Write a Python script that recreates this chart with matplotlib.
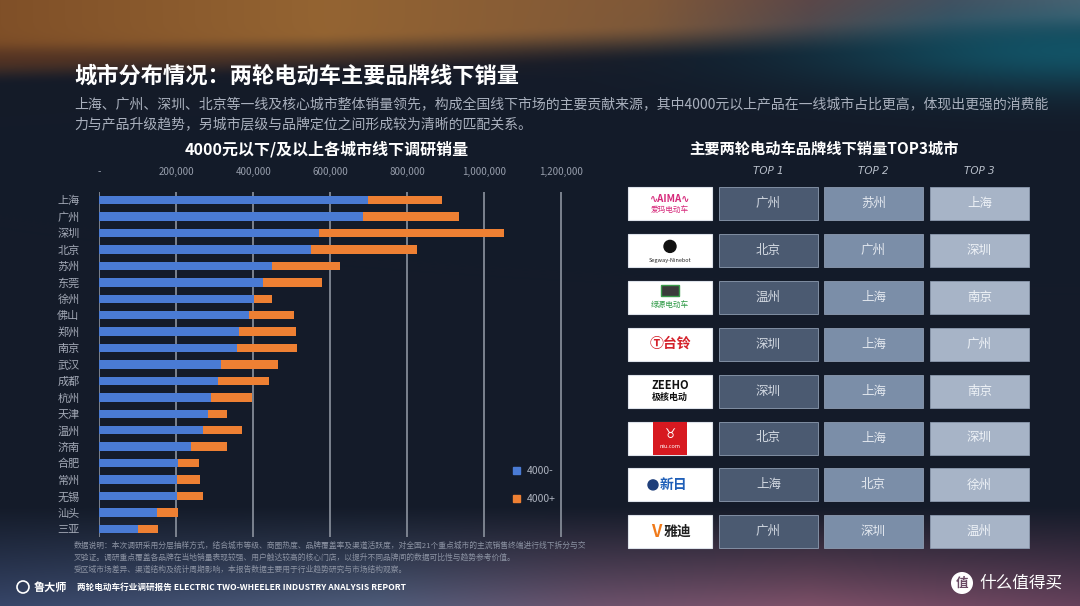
import numpy as np
import matplotlib
matplotlib.use('Agg')
import matplotlib.pyplot as plt
from matplotlib.patches import Rectangle, Circle, Patch

plt.rcParams['font.family'] = ['Noto Sans CJK SC', 'DejaVu Sans']

# data
cities = ['上海', '广州', '深圳', '北京', '苏州', '东莞', '徐州', '佛山', '郑州', '南京', '武汉',
          '成都', '杭州', '天津', '温州', '济南', '合肥', '常州', '无锡', '汕头', '三亚']
below_4000 = [699000, 686000, 571000, 550000, 450000, 425000, 402000, 389000, 363000, 359000, 317000,
              308000, 290000, 282000, 269000, 240000, 205000, 203000, 203000, 151000, 100000]
above_4000 = [191000, 247000, 481000, 274000, 176000, 153000, 46000, 116000, 148000, 156000, 147000,
              133000, 108000, 50000, 103000, 92000, 55000, 59000, 66000, 53000, 54000]
series_names = ['4000-', '4000+']
x_ticks = [0, 200000, 400000, 600000, 800000, 1000000, 1200000]
x_tick_labels = ['-', '200,000', '400,000', '600,000', '800,000', '1,000,000', '1,200,000']

brands = ['爱玛', '九号', '绿源', '台铃', '极核', '小牛', '新日', '雅迪']
top1 = ['广州', '北京', '温州', '深圳', '深圳', '北京', '上海', '广州']
top2 = ['苏州', '广州', '上海', '上海', '上海', '上海', '北京', '深圳']
top3 = ['上海', '深圳', '南京', '广州', '南京', '深圳', '徐州', '温州']
top_headers = ['TOP 1', 'TOP 2', 'TOP 3']

title = '城市分布情况：两轮电动车主要品牌线下销量'
subtitle = ('上海、广州、深圳、北京等一线及核心城市整体销量领先，构成全国线下市场的主要贡献来源，其中4000元以上产品在一线城市占比更高，体现出更强的消费能\n'
            '力与产品升级趋势，另城市层级与品牌定位之间形成较为清晰的匹配关系。')
notes = ['数据说明：本次调研采用分层抽样方式，结合城市等级、商圈热度、品牌覆盖率及渠道活跃度，对全国21个重点城市的主流销售终端进行线下拆分与交',
         '叉验证。调研重点覆盖各品牌在当地销量表现较强、用户触达较高的核心门店，以提升不同品牌间的数据可比性与趋势参考价值。',
         '受区域市场差异、渠道结构及统计周期影响，本报告数据主要用于行业趋势研究与市场结构观察。']

W, H = 1080, 606
fig = plt.figure(figsize=(10.8, 6.06), dpi=100)

# background gradient
yy, xx = np.mgrid[0:H, 0:W].astype(float)
base = np.array([20, 27, 41], dtype=float)
img = np.ones((H, W, 3)) * base

xs = np.array([0, 0.3, 0.6, 0.75, 0.88, 1.0]) * W
top_cols = np.array([[128, 80, 40], [148, 100, 50], [128, 88, 56], [95, 70, 70], [72, 80, 95], [80, 100, 115]], dtype=float)
tc = np.stack([np.interp(xx[0], xs, top_cols[:, k]) for k in range(3)], axis=-1)
full = 40 - 28 * (xx / W)
fade = 45 - 10 * (xx / W)
t = np.clip((yy - full) / fade, 0, 1)
wt = 1 - t * t * (3 - 2 * t)
# darker brown on the lower edge of the band (left side)
brown = np.array([80, 45, 32], dtype=float)
wbrown = np.exp(-((yy - 58) / 14) ** 2) * np.clip(1 - xx / 700, 0, 1) * 0.55
img = img * (1 - wt[..., None]) + tc[None, :, :] * wt[..., None]
img = img * (1 - wbrown[..., None]) + brown * wbrown[..., None]
# teal glow top right
teal = np.array([18, 92, 112], dtype=float)
wteal = np.exp(-(((xx - 1080) / 260) ** 2 + ((yy - 50) / 40) ** 2)) * 0.85
img = img * (1 - wteal[..., None]) + teal * wteal[..., None]

bxs = np.array([0, 0.35, 0.55, 0.75, 1.0]) * W
bot_cols = np.array([[55, 70, 105], [78, 92, 122], [108, 82, 108], [125, 80, 104], [102, 66, 92]], dtype=float)
bc = np.stack([np.interp(xx[0], bxs, bot_cols[:, k]) for k in range(3)], axis=-1)
wb = np.clip((yy - 505) / 101, 0, 1) ** 1.1
img = img * (1 - wb[..., None]) + bc[None, :, :] * wb[..., None]

bg = fig.add_axes([0, 0, 1, 1])
bg.imshow(np.clip(img, 0, 255).astype(np.uint8), extent=[0, W, H, 0], aspect='auto')
bg.set_xlim(0, W)
bg.set_ylim(H, 0)
bg.axis('off')

# titles
bg.text(74, 76, title, color='white', fontsize=16, fontweight='bold', va='center')
bg.text(74, 114, subtitle, color='#a9b0bd', fontsize=10, va='center', linespacing=1.55)
bg.text(327, 149, '4000元以下/及以上各城市线下调研销量', color='white', fontsize=11.5,
        fontweight='bold', ha='center', va='center')
bg.text(824, 149, '主要两轮电动车品牌线下销量TOP3城市', color='white', fontsize=11,
        fontweight='bold', ha='center', va='center')

# bar chart
ax = fig.add_axes([99 / W, 1 - 537 / H, 501 / W, 345 / H])
ax.set_facecolor('none')
y = np.arange(len(cities))
ax.barh(y, below_4000, height=0.52, color='#4a7bd4', zorder=3)
ax.barh(y, above_4000, left=below_4000, height=0.52, color='#ee8033', zorder=3)
ax.set_ylim(len(cities) - 0.5, -0.5)
ax.set_xlim(0, 1300000)
ax.set_yticks(y)
ax.set_yticklabels(cities)
ax.set_xticks(x_ticks)
ax.set_xticklabels(x_tick_labels)
ax.xaxis.tick_top()
ax.tick_params(axis='x', length=0, pad=11, labelsize=7, labelcolor='#969dab')
ax.tick_params(axis='y', length=0, pad=14, labelsize=8, labelcolor='#a3a9b6')
for s in ax.spines.values():
    s.set_visible(False)
ax.grid(axis='x', color='#838a96', linewidth=1.3, zorder=1)
ax.set_axisbelow(True)
ax.legend(handles=[Patch(color='#4a7bd4'), Patch(color='#ee8033')], labels=series_names,
          loc='upper left', bbox_to_anchor=(513 / W, 1 - 466 / H), bbox_transform=fig.transFigure,
          frameon=False, handlelength=0.7, handleheight=0.7, handletextpad=0.6,
          labelspacing=1.75, fontsize=7.5, labelcolor='#aeb4c0', borderpad=0, borderaxespad=0)

# table
col_x = [719, 824, 930]
col_w = 99
cell_cols = ['#4b5a71', '#7b8ea8', '#a7b4c7']
text_cols = ['#d3d9e2', '#e3e8ef', '#eef2f7']
row_top0, row_step, row_h = 187, 46.9, 33
for j, hdr in enumerate(top_headers):
    bg.text(col_x[j] + col_w / 2, 171, hdr, color='#b8bfca', fontsize=7.5, style='italic',
            family='DejaVu Sans', ha='center', va='center')
for i, brand in enumerate(brands):
    top = row_top0 + row_step * i
    cy = top + row_h / 2
    bg.add_patch(Rectangle((628, top), 84, row_h, facecolor='white', edgecolor='#dde2ea', lw=0.8))
    for j, city in enumerate([top1[i], top2[i], top3[i]]):
        bg.add_patch(Rectangle((col_x[j], top), col_w, row_h, facecolor=cell_cols[j],
                               edgecolor='#8d9bb0', lw=0.6))
        bg.text(col_x[j] + col_w / 2, cy, city, color=text_cols[j], fontsize=9,
                ha='center', va='center')
    # simplified brand marks
    cx = 670
    if brand == '爱玛':
        bg.text(cx, cy - 5, '∿AIMA∿', color='#d6287a', fontsize=7, fontweight='bold', ha='center', va='center')
        bg.text(cx, cy + 6, '爱玛电动车', color='#d6287a', fontsize=5.5, ha='center', va='center')
    elif brand == '九号':
        bg.add_patch(Circle((cx, cy - 4), 6, color='#111111'))
        bg.text(cx, cy + 10, 'Segway-Ninebot', color='#222222', fontsize=4, ha='center', va='center')
    elif brand == '绿源':
        bg.add_patch(Rectangle((cx - 9, top + 4), 18, 11, facecolor='#3b3b3b', edgecolor='#3a9a4a', lw=1))
        bg.text(cx, cy + 8, '绿源电动车', color='#2e9a46', fontsize=5.5, ha='center', va='center')
    elif brand == '台铃':
        bg.text(cx, cy, 'Ⓣ台铃', color='#d4202a', fontsize=10, fontweight='bold', ha='center', va='center')
    elif brand == '极核':
        bg.text(cx, cy - 6, 'ZEEHO', color='#111111', fontsize=8, fontweight='bold', ha='center', va='center')
        bg.text(cx, cy + 6, '极核电动', color='#111111', fontsize=6.5, fontweight='bold', ha='center', va='center')
    elif brand == '小牛':
        bg.add_patch(Rectangle((cx - 17, top), 34, row_h, facecolor='#d71920', lw=0))
        bg.text(cx, cy - 4, '♉', color='white', fontsize=9, ha='center', va='center')
        bg.text(cx, cy + 8, 'niu.com', color='white', fontsize=4, ha='center', va='center')
    elif brand == '新日':
        bg.add_patch(Circle((cx - 17, cy), 5, color='#1f3f7a'))
        bg.text(cx + 4, cy, '新日', color='#1f5fb8', fontsize=10, fontweight='bold', ha='center', va='center')
    elif brand == '雅迪':
        bg.text(cx - 14, cy, 'V', color='#f07a1a', fontsize=12, fontweight='bold', ha='center', va='center')
        bg.text(cx + 8, cy, '雅迪', color='#222222', fontsize=10, fontweight='bold', ha='center', va='center')

# footer
for k, line in enumerate(notes):
    bg.text(74, 546 + 12 * k, line, color='#8c93a3', fontsize=5.6, va='center')
bg.add_patch(Circle((23, 587), 6, facecolor='none', edgecolor='white', lw=1.2))
bg.text(34, 587, '鲁大师', color='white', fontsize=8, fontweight='bold', va='center')
bg.text(77, 587, '两轮电动车行业调研报告 ELECTRIC TWO-WHEELER INDUSTRY ANALYSIS REPORT',
        color='white', fontsize=6.2, fontweight='bold', va='center')
bg.add_patch(Circle((962, 583), 11, facecolor='white', lw=0))
bg.text(962, 583, '值', color='#6a4a64', fontsize=9, fontweight='bold', ha='center', va='center')
bg.text(979, 583, '什么值得买', color='white', fontsize=12, va='center')

fig.savefig('out.png', dpi=100)
